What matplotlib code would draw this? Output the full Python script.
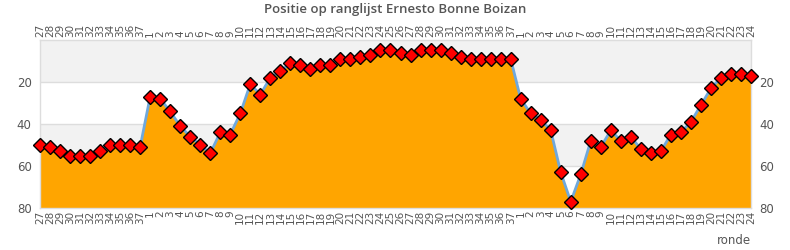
import matplotlib
matplotlib.use('Agg')
import matplotlib.pyplot as plt
import numpy as np

# ronde labels (three seasons after one another)
rondes = ([str(r) for r in range(27, 38)]
          + [str(r) for r in range(1, 38)]
          + [str(r) for r in range(1, 25)])

positie = [
    50, 51, 53, 55, 55, 55, 53, 50, 50, 50, 51,
    27, 28, 34, 41, 46, 50, 54, 44, 45, 35, 21, 26, 18, 15, 11, 12, 14, 12, 12,
    9, 9, 8, 7, 5, 5, 6, 7, 5, 5, 5, 6, 8, 9, 9, 9, 9, 9,
    28, 35, 38, 43, 63, 77, 64, 48, 51, 43, 48, 46, 52, 54, 53, 45, 44, 39,
    31, 23, 18, 16, 16, 17,
]

titel = 'Positie op ranglijst Ernesto Bonne Boizan'
y_ticks = [20, 40, 60, 80]

x = np.arange(len(positie))

fig = plt.figure(figsize=(7.9, 2.5), dpi=100)
ax = fig.add_axes([40 / 790, 1 - 208 / 250, 711 / 790, 168 / 250])

# alternating horizontal bands
for lo, hi in [(0, 20), (40, 60)]:
    ax.axhspan(lo, hi, color='#f2f2f2', zorder=0, lw=0)
for yv in y_ticks[:-1]:
    ax.axhline(yv, color='#dddddd', lw=1, zorder=1)

ax.fill_between(x, positie, 80, color='#ffa500', lw=0, zorder=2)
ax.plot(x, positie, color='#6fa8dc', lw=2, zorder=3)
ax.plot(x, positie, ls='none', marker='D', ms=7, mfc='red', mec='black',
        mew=1, zorder=4, clip_on=False)

ax.set_xlim(0, len(positie) - 1)
ax.set_ylim(80, 0)

ax.set_yticks(y_ticks)
ax.tick_params(axis='y', which='both', length=0, labelsize=8.5,
               labelcolor='#555555', left=True, right=True,
               labelleft=True, labelright=True, pad=6)

ax.set_xticks(x)
ax.set_xticklabels(rondes, rotation=90)
ax.tick_params(axis='x', length=0, labelsize=7.5, labelcolor='#555555',
               top=True, labeltop=True, bottom=True, labelbottom=True, pad=2)

for s in ax.spines.values():
    s.set_color('#dddddd')
    s.set_linewidth(1)

fig.text(751 / 790, 9 / 250, 'ronde', ha='right', va='center',
         fontsize=8.5, color='#555555')
fig.text(0.5, 1 - 9 / 250, titel, ha='center', va='center', fontsize=9.5,
         family='Open Sans', fontweight='semibold', color='#555555')

fig.savefig('out.png', dpi=100)
